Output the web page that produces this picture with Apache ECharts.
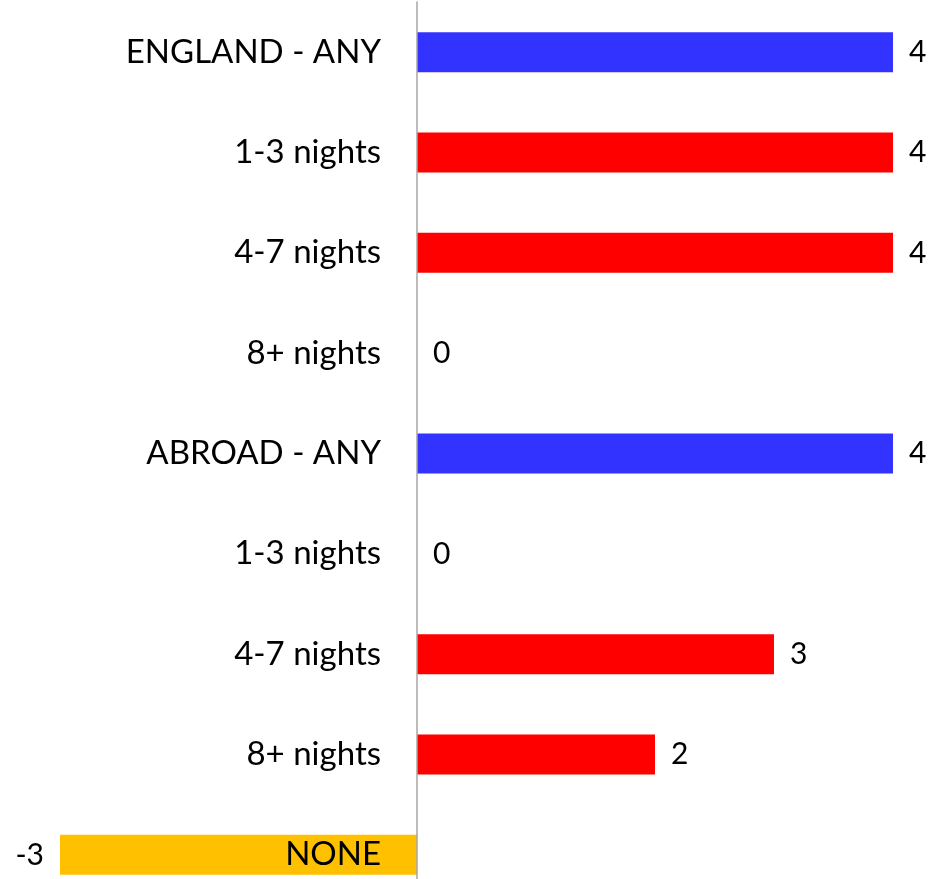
<!DOCTYPE html>
<html>
<head>
<meta charset="utf-8">
<script src="https://cdn.jsdelivr.net/npm/echarts@6/dist/echarts.min.js"></script>
<style>
  html, body { margin: 0; padding: 0; background: #fff; }
  #chart { width: 941px; height: 879px; }
</style>
</head>
<body>
<div id="chart"></div>
<script>
// categories top to bottom
const categories = ['ENGLAND - ANY', '1-3 nights', '4-7 nights', '8+ nights', 'ABROAD - ANY', '1-3 nights', '4-7 nights', '8+ nights', 'NONE']
const values = [4, 4, 4, 0, 4, 0, 3, 2, -3]
const barColors = ['#3333FF', '#FF0000', '#FF0000', '#FF0000', '#3333FF', '#FF0000', '#FF0000', '#FF0000', '#FFC000']

const FONT = 'Lato'
const chart = echarts.init(document.getElementById('chart'))

chart.setOption({
  animation: false,
  grid: { left: 60, right: 48, top: 2, bottom: -26, outerBoundsMode: 'none', containLabel: false },
  xAxis: {
    type: 'value',
    min: -3,
    max: 4,
    show: false,
    splitLine: { show: false }
  },
  yAxis: {
    type: 'category',
    data: categories,
    inverse: true,
    position: 'left',
    offset: -357, // move the axis to the zero of the value axis
    z: 10,
    axisLine: { show: true, onZero: false, lineStyle: { color: '#A6A6A6', width: 1.5 } },
    axisTick: { show: false },
    axisLabel: { margin: 36, color: '#000', fontSize: 33, fontFamily: FONT }
  },
  series: [{
    type: 'bar',
    barWidth: 40,
    data: values.map((v, i) => ({
      value: v,
      itemStyle: { color: barColors[i] },
      label: { position: v < 0 ? 'left' : 'right' }
    })),
    label: {
      show: true,
      distance: 16,
      color: '#000',
      fontSize: 30,
      fontFamily: FONT,
      formatter: '{c}'
    }
  }]
})
</script>
</body>
</html>
